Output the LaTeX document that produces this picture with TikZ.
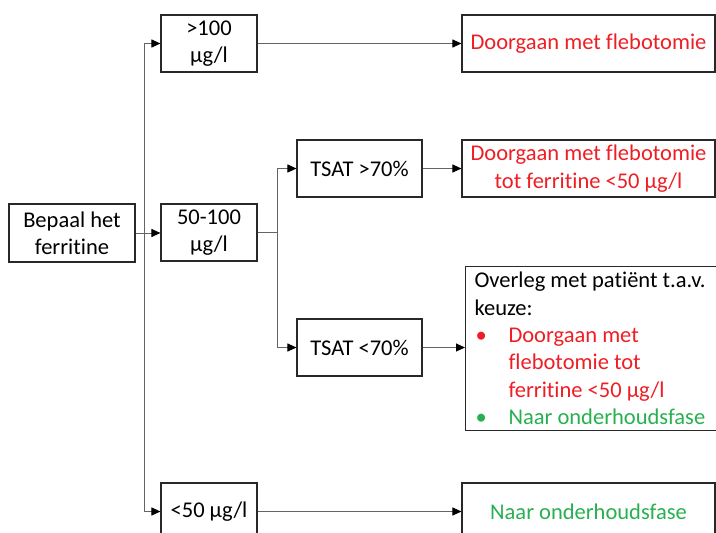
\documentclass[tikz,border=0pt]{standalone}
\usepackage{fontspec}
\setmainfont[Ligatures=NoCommon]{Carlito}
\usetikzlibrary{arrows.meta}
\definecolor{ffred}{RGB}{238,30,36}
\definecolor{ffgreen}{RGB}{40,176,80}
\definecolor{boxline}{RGB}{40,40,40}
\definecolor{connline}{RGB}{100,100,100}
\tikzset{
  box/.style={draw=boxline, line width=1.1pt, align=center, inner sep=2pt,
    font=\fontsize{22.5}{27.4}\selectfont},
  conn/.style={draw=connline, line width=0.9pt},
  arr/.style={conn, -{Triangle[length=9pt,width=8pt,color=black]}},
}
\begin{document}
\begin{tikzpicture}[x=1pt,y=-1pt]
\useasboundingbox (0,0) rectangle (716,533);
\clip (0,0) rectangle (716,533);
\node[box, minimum width=126pt, minimum height=58pt] (bepaal) at (72,233) {Bepaal het\\ferritine};
\node[box, minimum width=96pt, minimum height=57pt] (gt100) at (209,43.5) {>100\\µg/l};
\node[box, minimum width=96pt, minimum height=57pt] (mid) at (209,232.5) {50-100\\µg/l};
\node[box, minimum width=96pt, minimum height=57pt] (lt50) at (209,511.5) {<50 µg/l};
\node[box, minimum width=125pt, minimum height=57pt] (hi) at (359.5,168.5) {TSAT >70\%};
\node[box, minimum width=125pt, minimum height=57pt] (lo) at (359.5,347.5) {TSAT <70\%};
\node[box, minimum width=253pt, minimum height=57pt, text=ffred] (r1) at (588.5,43.5) {Doorgaan met flebotomie};
\node[box, minimum width=253pt, minimum height=57pt, text=ffred] (r2) at (588.5,168.5) {Doorgaan met flebotomie\\tot ferritine <50 µg/l};
\node[box, anchor=north west, align=left, text width=242pt, inner xsep=9pt, minimum height=164pt] (overleg) at (465,266)
  {\spaceskip=0pt\xspaceskip=0pt Overleg met patiënt t.a.v.\\
   keuze:\\
   \textcolor{ffred}{\makebox[34pt][l]{\hspace{1pt}•}Doorgaan met}\\
   \textcolor{ffred}{\hspace*{34pt}flebotomie tot}\\
   \textcolor{ffred}{\hspace*{34pt}ferritine <50 µg/l}\\
   \textcolor{ffgreen}{\makebox[34pt][l]{\hspace{1pt}•}Naar onderhoudsfase}};
\node[box, minimum width=253pt, minimum height=57pt, text=ffgreen] (r4) at (588.5,511.5) {Naar onderhoudsfase};
\coordinate (t1) at (144,233);
\coordinate (t2) at (277,232.5);
\draw[arr] (bepaal.east) -- (bepaal.east -| mid.west);
\draw[arr] (t1) |- (gt100.west);
\draw[arr] (t1) |- (lt50.west);
\draw[conn] (mid.east) -- (t2);
\draw[arr] (t2) |- (hi.west);
\draw[arr] (t2) |- (lo.west);
\draw[arr] (gt100.east) -- (r1.west);
\draw[arr] (hi.east) -- (r2.west);
\draw[arr] (lo.east) -- (lo.east -| overleg.west);
\draw[arr] (lt50.east) -- (r4.west);
\end{tikzpicture}
\end{document}
